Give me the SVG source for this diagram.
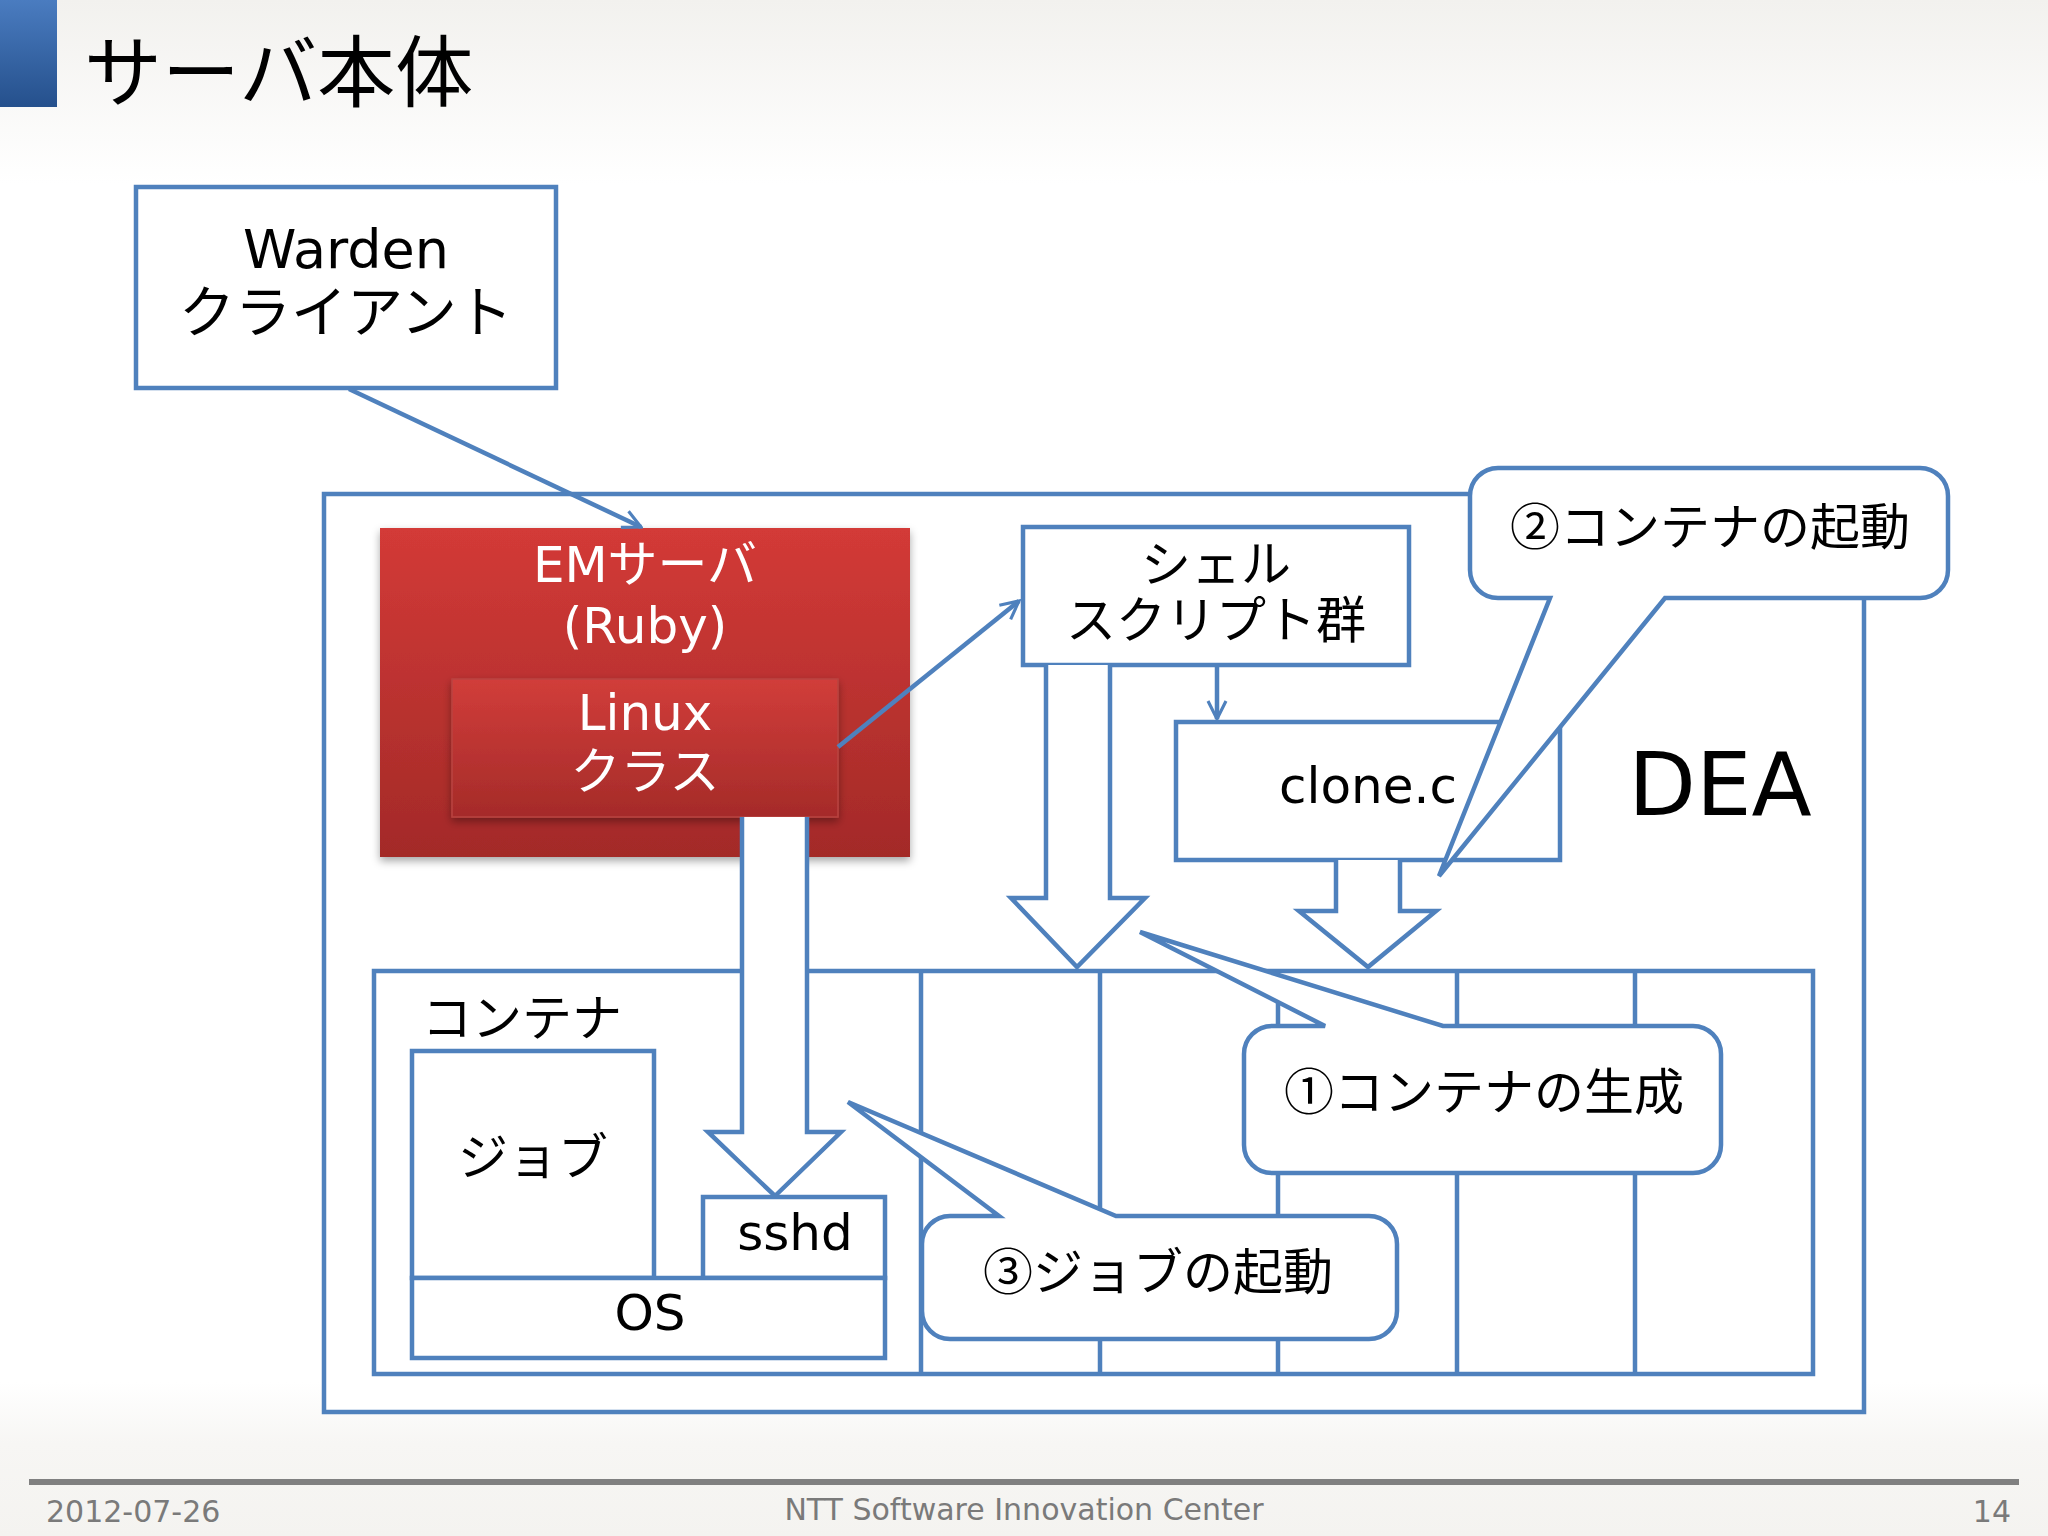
<svg xmlns="http://www.w3.org/2000/svg" width="2048" height="1536" viewBox="0 0 2048 1536">
<defs>
<linearGradient id="bg" x1="0" y1="0" x2="0" y2="1">
<stop offset="0" stop-color="#f2f1ee"/>
<stop offset="0.12" stop-color="#ffffff"/>
<stop offset="0.9" stop-color="#ffffff"/>
<stop offset="0.94" stop-color="#f7f6f4"/>
<stop offset="1" stop-color="#f4f3f0"/>
</linearGradient>
<linearGradient id="bar" x1="0" y1="0" x2="0" y2="1">
<stop offset="0" stop-color="#4a7cc0"/>
<stop offset="1" stop-color="#25508c"/>
</linearGradient>
<linearGradient id="red" x1="0" y1="0" x2="0" y2="1">
<stop offset="0" stop-color="#d33a37"/>
<stop offset="1" stop-color="#a32a28"/>
</linearGradient>
<linearGradient id="red2" x1="0" y1="0" x2="0" y2="1">
<stop offset="0" stop-color="#d13d3a"/>
<stop offset="1" stop-color="#a52b29"/>
</linearGradient>
<filter id="sh" x="-10%" y="-10%" width="120%" height="125%">
<feDropShadow dx="0" dy="4" stdDeviation="4" flood-color="#000" flood-opacity="0.35"/>
</filter>
<marker id="ah" viewBox="0 0 10 10" markerWidth="5" markerHeight="5" refX="9" refY="5" orient="auto" markerUnits="strokeWidth">
<path d="M1,1 L9,5 L1,9" fill="none" stroke="#4f81bd" stroke-width="1.4"/>
</marker>
<style>
.box{fill:#ffffff;stroke:#4f81bd;stroke-width:4.5}
.ln{fill:none;stroke:#4f81bd;stroke-width:4.5}
.con{fill:none;stroke:#4f81bd;stroke-width:4.5;marker-end:url(#ah)}
.hol{fill:#ffffff;stroke:#4f81bd;stroke-width:4.5;stroke-linejoin:miter}
.t{font-family:"DejaVu Sans","Noto Sans CJK JP",sans-serif;font-size:50px;fill:#000;text-anchor:middle}
.j{font-family:"Noto Sans CJK JP","DejaVu Sans",sans-serif;font-size:50px;fill:#000;text-anchor:middle}
.w{fill:#ffffff}
.ft{font-family:"DejaVu Sans","Noto Sans CJK JP",sans-serif;font-size:30px;fill:#7a7a7a}
</style>
</defs>
<rect x="0" y="0" width="2048" height="1536" fill="url(#bg)"/>
<g id="title">
<rect x="0" y="0" width="57" height="107" fill="url(#bar)"/>
<text x="84" y="101" style="font-family:'Noto Sans CJK JP',sans-serif;font-size:78px;fill:#000">サーバ本体</text>
</g>
<g id="dea">
<rect class="box" x="324" y="494" width="1540" height="918"/>
<text x="1720" y="815" style="font-family:'DejaVu Sans',sans-serif;font-size:88px;fill:#000;text-anchor:middle">DEA</text>
</g>
<g id="container">
<rect class="box" x="374" y="971" width="1439" height="403"/>
<line class="ln" x1="921" y1="971" x2="921" y2="1374"/>
<line class="ln" x1="1100" y1="971" x2="1100" y2="1374"/>
<line class="ln" x1="1278" y1="971" x2="1278" y2="1374"/>
<line class="ln" x1="1457" y1="971" x2="1457" y2="1374"/>
<line class="ln" x1="1635" y1="971" x2="1635" y2="1374"/>
<text class="j" x="422" y="1036" style="text-anchor:start">コンテナ</text>
</g>
<g id="warden">
<rect class="box" x="136" y="187" width="420" height="201"/>
<text class="t" x="346" y="268" style="font-size:54px">Warden</text>
<text class="j" x="346" y="332" style="font-size:56px">クライアント</text>
</g>
<g id="em-server">
<rect x="380" y="528" width="530" height="329" fill="url(#red)" filter="url(#sh)"/>
<text class="t w" x="645" y="582">EMサーバ</text>
<text class="t w" x="645" y="643">(Ruby)</text>
</g>
<g id="linux-class">
<rect x="452" y="679" width="386" height="138" fill="url(#red2)" stroke="#b94441" stroke-width="1.5" filter="url(#sh)"/>
<text class="t w" x="645" y="730">Linux</text>
<text class="j w" x="645" y="789">クラス</text>
</g>
<g id="shell-scripts">
<rect class="box" x="1023" y="527" width="386" height="138"/>
<text class="j" x="1216" y="582">シェル</text>
<text class="j" x="1216" y="638">スクリプト群</text>
</g>
<g id="clone-c">
<rect class="box" x="1176" y="722" width="384" height="138"/>
<text class="t" x="1368" y="803">clone.c</text>
</g>
<g id="hollow-arrows">
<path class="hol" d="M1046,665 V898 H1011 L1077,967 L1145,898 H1110 V665"/>
<path class="hol" d="M1336,860 V911 H1299 L1368,967 L1436,911 H1400 V860"/>
<path class="hol" d="M742,817 V1132 H708 L775,1196 L841,1132 H807 V817"/>
</g>
<g id="job">
<rect class="box" x="412" y="1051" width="242" height="227"/>
<text class="j" x="533" y="1175">ジョブ</text>
</g>
<g id="sshd">
<rect class="box" x="703" y="1197" width="182" height="81"/>
<text class="t" x="795" y="1250">sshd</text>
</g>
<g id="os">
<rect class="box" x="412" y="1278" width="473" height="80"/>
<text class="t" x="650" y="1330">OS</text>
</g>
<g id="callout-1">
<path class="box" d="M1272,1026 H1325 L1140,932 L1443,1026 H1693 A28,28 0 0 1 1721,1054 V1145 A28,28 0 0 1 1693,1173 H1272 A28,28 0 0 1 1244,1145 V1054 A28,28 0 0 1 1272,1026 Z"/>
<text class="j" x="1484" y="1110">①コンテナの生成</text>
</g>
<g id="callout-2">
<path class="box" d="M1498,468 H1920 A28,28 0 0 1 1948,496 V570 A28,28 0 0 1 1920,598 H1665 L1439,876 L1550,598 H1498 A28,28 0 0 1 1470,570 V496 A28,28 0 0 1 1498,468 Z"/>
<text class="j" x="1710" y="545">②コンテナの起動</text>
</g>
<g id="callout-3">
<path class="box" d="M950,1216 H999 L848,1102 L1116,1216 H1369 A28,28 0 0 1 1397,1244 V1311 A28,28 0 0 1 1369,1339 H950 A28,28 0 0 1 922,1311 V1244 A28,28 0 0 1 950,1216 Z"/>
<text class="j" x="1158" y="1290">③ジョブの起動</text>
</g>
<g id="connectors">
<line class="con" x1="349" y1="389" x2="641" y2="527"/>
<line class="con" x1="838" y1="747" x2="1019" y2="601"/>
<line class="con" x1="1217" y1="665" x2="1217" y2="719"/>
</g>
<g id="footer">
<line x1="29" y1="1482" x2="2019" y2="1482" stroke="#808080" stroke-width="6"/>
<text class="ft" x="46" y="1522">2012-07-26</text>
<text class="ft" x="1024" y="1520" text-anchor="middle">NTT Software Innovation Center</text>
<text class="ft" x="2011" y="1522" text-anchor="end">14</text>
</g>
</svg>
